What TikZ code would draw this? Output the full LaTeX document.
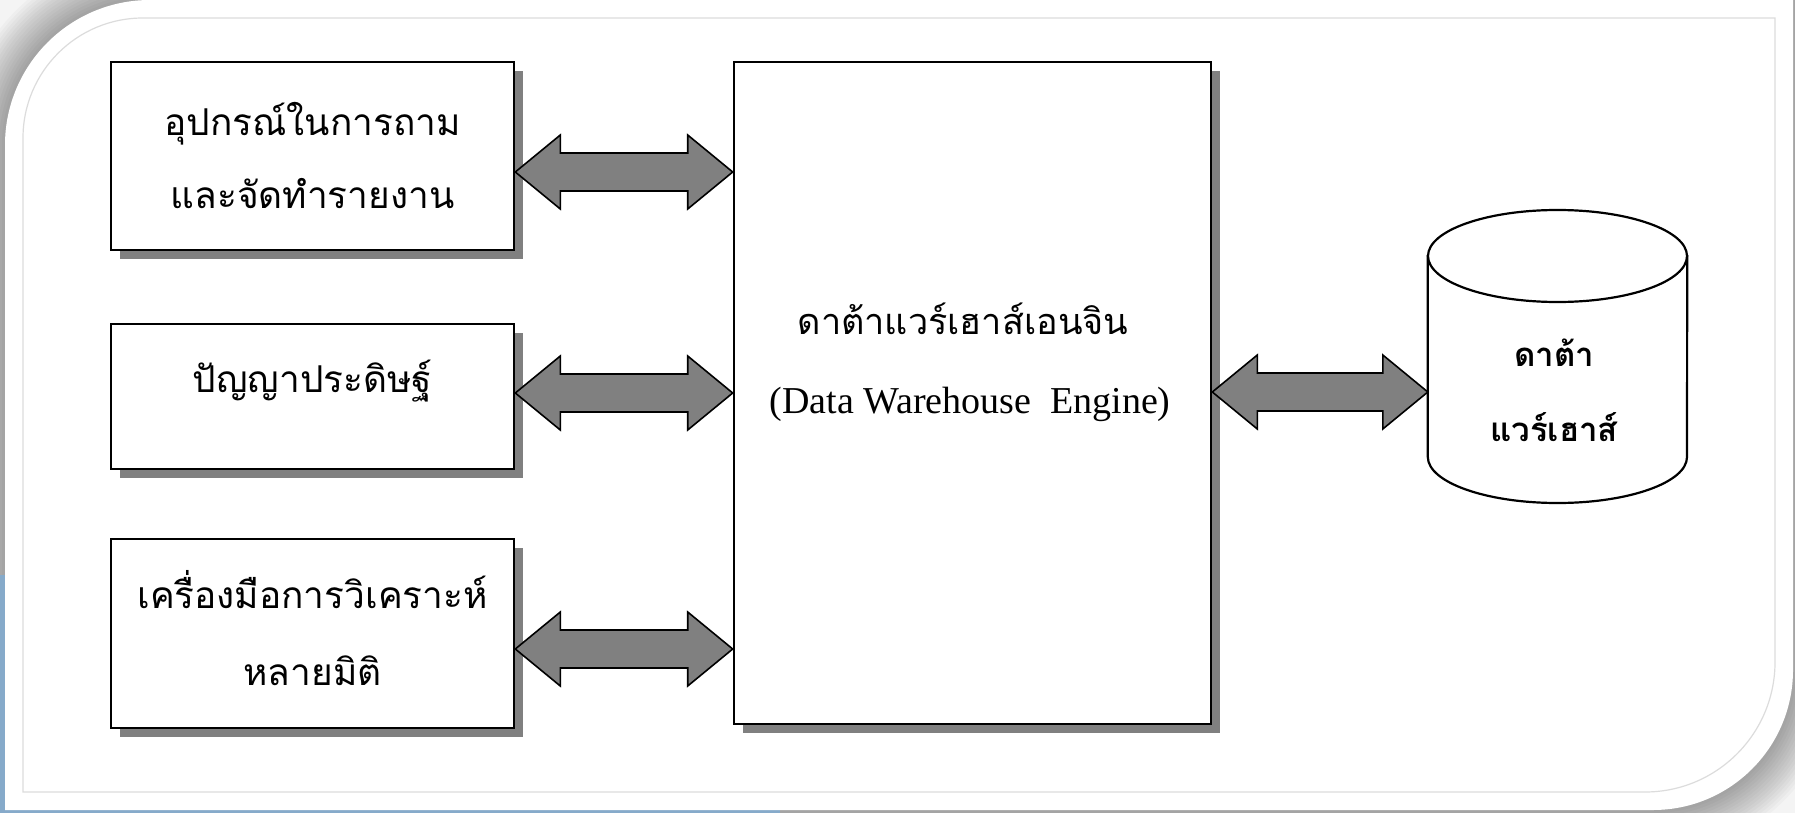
\documentclass[tikz,border=0pt]{standalone}
\usepackage{fontspec}
\setmainfont{Liberation Serif}
\newfontfamily\thai[Script=Thai]{Loma}
\usetikzlibrary{calc,shadows}
\definecolor{shadowgray}{HTML}{808080}
\definecolor{arrowgray}{HTML}{808080}
\definecolor{bgblue}{HTML}{86AACA}
\definecolor{bglight}{HTML}{F4F4F4}
\definecolor{innerline}{HTML}{DCDCDC}
\newcommand\fatarrow[3]{%
  \path[fat] let \p1=(#1.east |- 0,#3), \p2=(#2.west |- 0,#3) in
    (\p1) -- (\x1+45pt,\y1+37pt) -- (\x1+45pt,\y1+19pt) -- (\x2-45pt,\y1+19pt)
    -- (\x2-45pt,\y1+37pt) -- (\p2) -- (\x2-45pt,\y1-37pt) -- (\x2-45pt,\y1-19pt)
    -- (\x1+45pt,\y1-19pt) -- (\x1+45pt,\y1-37pt) -- cycle;}
\begin{document}
\begin{tikzpicture}[x=1pt,y=-1pt,
  box/.style={draw=black, line width=2.6pt, fill=white, inner sep=0pt,
    drop shadow={shadow xshift=9pt, shadow yshift=-9pt, fill=shadowgray, opacity=1}},
  txt/.style={font=\thai\fontsize{37}{42}\selectfont, anchor=base, inner sep=0pt},
  engtxt/.style={font=\thai\fontsize{36}{42}\selectfont, anchor=base, inner sep=0pt},
  cyltxt/.style={font=\thai\bfseries\fontsize{33}{38}\selectfont, anchor=base, inner sep=0pt},
  latin/.style={font=\fontsize{38}{42}\selectfont, anchor=base, inner sep=0pt},
  fat/.style={fill=arrowgray, draw=black, line width=1.6pt, line join=miter},
  cyl/.style={draw=black, line width=2.2pt, fill=white},
  panelshadow/.style={draw=black, draw opacity=0.022, line width=#1}]
\useasboundingbox (0,0) rectangle (1795,813);
% background
\fill[bglight] (0,0) rectangle (1795,813);
\foreach \w in {90,84,...,6}{
  \draw[panelshadow=\w pt] (5,810) -- (5,145) .. controls (5,65) and (70,0) .. (150,0)
    -- (1793,0) -- (1793,670) .. controls (1793,747.3) and (1730.3,810) .. (1653,810) -- cycle;}
\fill[bgblue] (0,575) rectangle (780,813);
\fill[white] (5,810) -- (5,145) .. controls (5,65) and (70,0) .. (150,0)
    -- (1793,0) -- (1793,670) .. controls (1793,747.3) and (1730.3,810) .. (1653,810) -- cycle;
\draw[innerline, line width=1.2pt] (23,792) -- (23,138) .. controls (23,71.7) and (76.7,18) .. (143,18)
    -- (1775,18) -- (1775,662) .. controls (1775,733.8) and (1716.8,792) .. (1645,792) -- cycle;
% boxes
\node[box, minimum width=403pt, minimum height=188pt] (b1) at (312.5,156) {};
\node[box, minimum width=403pt, minimum height=145pt] (b2) at (312.5,396.5) {};
\node[box, minimum width=403pt, minimum height=189pt] (b3) at (312.5,633.5) {};
\node[box, minimum width=477pt, minimum height=662pt] (eng) at (972.5,393) {};
\node[txt] (t1a) at (312.5,136) {อุปกรณ์ในการถาม};
\node[txt] (t1b) at (312.5,208) {และจัดทำรายงาน};
\node[txt] (t2) at (312.5,392) {ปัญญาประดิษฐ์};
\node[txt] (t3a) at (312.5,608) {เครื่องมือการวิเคราะห์};
\node[txt] (t3b) at (312.5,685) {หลายมิติ};
\node[engtxt] (te1) at (963,334) {ดาต้าแวร์เฮาส์เอนจิน};
\node[latin] (te2) at (970,413) {(Data Warehouse~ Engine)};
% cylinder
\node[minimum width=259pt, minimum height=293pt, inner sep=0pt] (dw) at (1557.5,356.5) {};
\path[cyl] (dw.west |- 0,256) -- (dw.west |- 0,457)
  .. controls (1428,482.4) and (1486,503) .. (1557.5,503)
  .. controls (1629,503) and (1687,482.4) .. (1687,457) -- (dw.east |- 0,256) -- cycle;
\draw[cyl] (1557.5,256) ellipse [x radius=129.5, y radius=46];
\node[cyltxt] (tc1) at (1554,366) {ดาต้า};
\node[cyltxt] (tc2) at (1554,441) {แวร์เฮาส์};
% arrows
\fatarrow{b1}{eng}{172}
\fatarrow{b2}{eng}{393}
\fatarrow{b3}{eng}{649}
\fatarrow{eng}{dw}{392}
\end{tikzpicture}
\end{document}
